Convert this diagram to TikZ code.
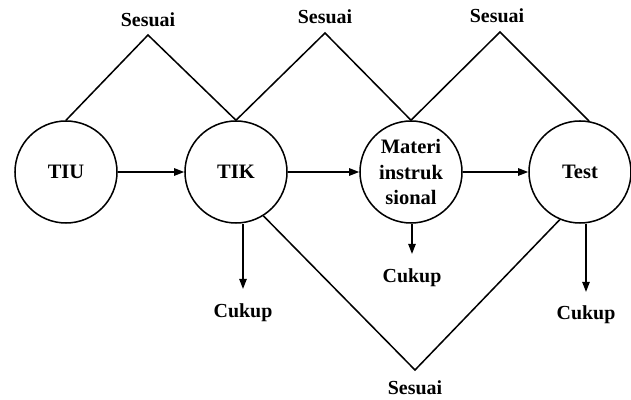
\documentclass[tikz,border=0pt]{standalone}
\usepackage{fontspec}
\setmainfont{Liberation Serif}
\usetikzlibrary{arrows.meta}
\begin{document}
\begin{tikzpicture}[x=0.03cm,y=-0.03cm,
  stage/.style={circle,draw,line width=1.3pt,minimum size=3.06cm,inner sep=0pt,align=center,font=\fontsize{17.5}{22}\selectfont\bfseries},
  lbl/.style={font=\fontsize{17}{20}\selectfont\bfseries,inner sep=0pt,anchor=base},
  conn/.style={line width=1.3pt,line join=miter},
  arr/.style={line width=1.3pt,-{Triangle[length=0.3cm,width=0.22cm]}}]
\useasboundingbox (0,0) rectangle (631,400);
\node[stage] (tiu) at (66,172) {TIU};
\node[stage] (tik) at (236,172) {TIK};
\node[stage] (mat) at (411,172) {Materi\\instruk\\sional};
\node[stage] (test) at (580,172) {Test};
% peaks
\coordinate (p1) at (148,35);
\coordinate (p2) at (325,33);
\coordinate (p3) at (500,32);
\coordinate (p4) at (415,370);
\node[lbl] (s1) at (148,27) {Sesuai};
\node[lbl] (s2) at (325,24) {Sesuai};
\node[lbl] (s3) at (497,23) {Sesuai};
\node[lbl] (s4) at (415,395) {Sesuai};
\node[lbl] (c1) at (243,318) {Cukup};
\node[lbl] (c2) at (412,283) {Cukup};
\node[lbl] (c3) at (586,320) {Cukup};
% connectors
\draw[conn] (tiu.north) -- (p1) -- (tik.north);
\draw[conn] (tik.north) -- (p2) -- (mat.north);
\draw[conn] (mat.north) -- (p3) -- (test.80);
\draw[conn] (tik.-58) -- (p4) -- (test.-113);
\draw[arr] (tiu) -- (tik);
\draw[arr] (tik) -- (mat);
\draw[arr] (mat) -- (test);
\draw[arr,shorten >=0.45cm] (tik.south -| c1.north) -- (c1.north);
\draw[arr,shorten >=0.45cm] (mat.south -| c2.north) -- (c2.north);
\draw[arr,shorten >=0.42cm] (test.south -| c3.north) -- (c3.north);
\end{tikzpicture}
\end{document}
